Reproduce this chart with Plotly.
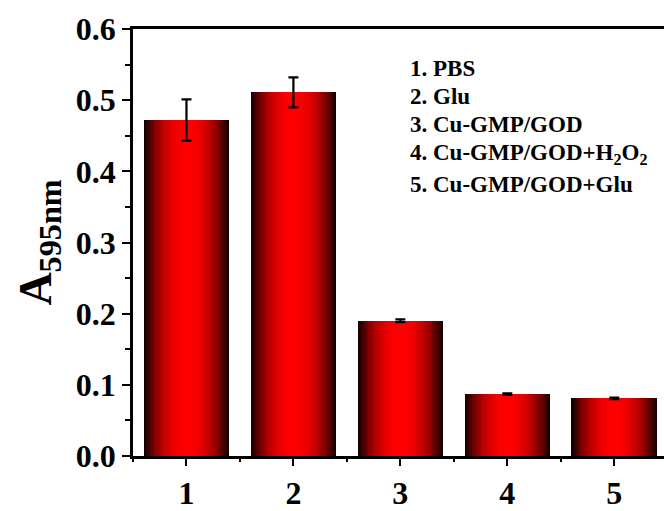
import plotly.graph_objects as go

# Absorbance at 595 nm for each sample group
groups = [1, 2, 3, 4, 5]
absorbance = [0.472, 0.511, 0.190, 0.087, 0.081]
errors = [0.029, 0.021, 0.002, 0.001, 0.001]
legend_lines = [
    "1. PBS",
    "2. Glu",
    "3. Cu-GMP/GOD",
    "4. Cu-GMP/GOD+H<sub>2</sub>O<sub>2</sub>",
    "5. Cu-GMP/GOD+Glu",
]
y_ticks = [0.0, 0.1, 0.2, 0.3, 0.4, 0.5, 0.6]

BAR_WIDTH = 0.8
N_LAYERS = 24
FONT = "Liberation Serif"

fig = go.Figure()

# Shaded bars: overlaid layers, each narrower and brighter than the last,
# give a dark edge -> bright red centre cylinder look.
for k in range(N_LAYERS):
    t = 1 - k / N_LAYERS          # distance of this layer's edge from centre (0..1)
    red = int(20 + 235 * (1 - t ** 2.2))
    fig.add_trace(go.Bar(
        x=groups,
        y=absorbance,
        width=BAR_WIDTH * t,
        marker=dict(color=f"rgb({red},0,0)", line=dict(width=0)),
        hoverinfo="skip",
        showlegend=False,
    ))

# Error bars on top of the bars
fig.add_trace(go.Scatter(
    x=groups,
    y=absorbance,
    mode="markers",
    marker=dict(size=1, color="rgba(0,0,0,0)"),
    error_y=dict(type="data", array=errors, color="black", thickness=2.2, width=5),
    showlegend=False,
))

# Sample descriptions in the upper right
legend_y = [0.908, 0.843, 0.776, 0.708, 0.636]
for text, yy in zip(legend_lines, legend_y):
    fig.add_annotation(
        text=f"<b>{text}</b>", xref="paper", yref="paper", x=0.518, y=yy,
        xanchor="left", yanchor="middle", showarrow=False,
        font=dict(family=FONT, size=23, color="black"),
    )

fig.update_layout(
    width=664,
    height=511,
    margin=dict(l=133, r=0, t=29, b=48),
    barmode="overlay",
    bargap=0,
    plot_bgcolor="white",
    paper_bgcolor="white",
    font=dict(family=FONT, color="black"),
    xaxis=dict(
        range=[0.5, 5.465],
        tickvals=groups,
        ticktext=[f"<b>{g}</b>" for g in groups],
        ticks="outside",
        ticklen=7,
        tickwidth=2.2,
        tickcolor="black",
        minor=dict(dtick=0.5, tick0=0.5, ticks="outside", ticklen=3, tickwidth=2, tickcolor="black"),
        showline=True,
        linewidth=2.5,
        linecolor="black",
        mirror=True,
        showgrid=False,
        zeroline=False,
        tickfont=dict(family=FONT, size=32, color="black"),
    ),
    yaxis=dict(
        range=[0, 0.6],
        tickvals=y_ticks,
        ticktext=[f"<b>{v:.1f}</b>" for v in y_ticks],
        ticks="outside",
        ticklen=8,
        tickwidth=2.2,
        tickcolor="black",
        minor=dict(dtick=0.05, ticks="outside", ticklen=5, tickwidth=2, tickcolor="black"),
        showline=True,
        linewidth=2.5,
        linecolor="black",
        showgrid=False,
        zeroline=False,
        tickfont=dict(family=FONT, size=32, color="black"),
        title=dict(
            text="<b>A<sub>595nm</sub></b>",
            font=dict(family=FONT, size=46, color="black"),
            standoff=10,
        ),
    ),
)

fig.write_html("out.html")
